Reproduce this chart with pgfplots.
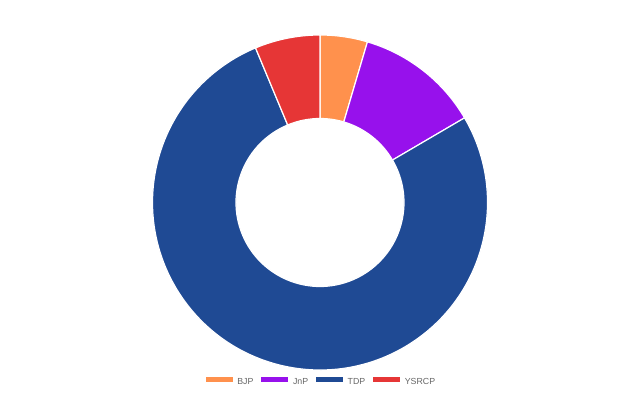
\documentclass[border=0pt]{standalone}
\usepackage{pgfplots}
\usepackage{pgfplotstable}
\pgfplotsset{compat=1.18}
\usepackage{fontspec}
\setmainfont{Liberation Sans}
\definecolor{cBJP}{HTML}{FF914D}
\definecolor{cJnP}{HTML}{9711EC}
\definecolor{cTDP}{HTML}{1F4A94}
\definecolor{cYSRCP}{HTML}{E63636}
\definecolor{legtext}{HTML}{666666}
\pgfplotstableread{
party seats color
BJP 8 cBJP
JnP 21 cJnP
TDP 135 cTDP
YSRCP 11 cYSRCP
}\seats
\begin{document}
\begin{tikzpicture}
\begin{axis}[
  x=0.75pt, y=0.75pt,
  xmin=0, xmax=640, ymin=0, ymax=398,
  hide axis, clip=false,
  legend columns=-1,
  legend image code/.code={\fill[#1] (0pt,0.2pt) rectangle (19.5pt,3.6pt);},
  legend style={at={(axis cs:320.5,16.5)}, anchor=center, draw=none, fill=none,
    font=\fontsize{6.6}{8}\selectfont\color{legtext},
    inner sep=0pt, outer sep=0pt,
    /tikz/every odd column/.append style={column sep=3.75pt},
    /tikz/every even column/.append style={column sep=6pt},
    nodes={inner sep=0pt}},
]
\path (axis cs:0,0) rectangle (axis cs:640,398);
\addlegendimage{cBJP}\addlegendentry{BJP}
\addlegendimage{cJnP}\addlegendentry{JnP}
\addlegendimage{cTDP}\addlegendentry{TDP}
\addlegendimage{cYSRCP}\addlegendentry{YSRCP}
\pgfplotstablegetrowsof{\seats}\pgfmathtruncatemacro\nrows{\pgfplotsretval-1}
\def\total{0}
\pgfplotsforeachungrouped \i in {0,...,\nrows}{%
  \pgfplotstablegetelem{\i}{seats}\of\seats
  \pgfmathsetmacro\total{\total+\pgfplotsretval}%
}
\def\start{90}
\pgfplotsforeachungrouped \i in {0,...,\nrows}{%
  \pgfplotstablegetelem{\i}{seats}\of\seats \let\val\pgfplotsretval
  \pgfplotstablegetelem{\i}{color}\of\seats \let\col\pgfplotsretval
  \pgfmathsetmacro\stop{\start-\val/\total*360}%
  \pgfmathsetmacro\xa{320+167.5*cos(\start)}%
  \pgfmathsetmacro\ya{195.5+167.5*sin(\start)}%
  \pgfmathsetmacro\xb{320+84*cos(\stop)}%
  \pgfmathsetmacro\yb{195.5+84*sin(\stop)}%
  \edef\temp{\noexpand\fill[\col, draw=white, line width=0.9pt, line join=round]
    (axis cs:\xa,\ya) arc[start angle=\start, end angle=\stop, radius=125.625pt]
    -- (axis cs:\xb,\yb) arc[start angle=\stop, end angle=\start, radius=63pt] -- cycle;}%
  \temp
  \let\start\stop
}
\end{axis}
\end{tikzpicture}
\end{document}
